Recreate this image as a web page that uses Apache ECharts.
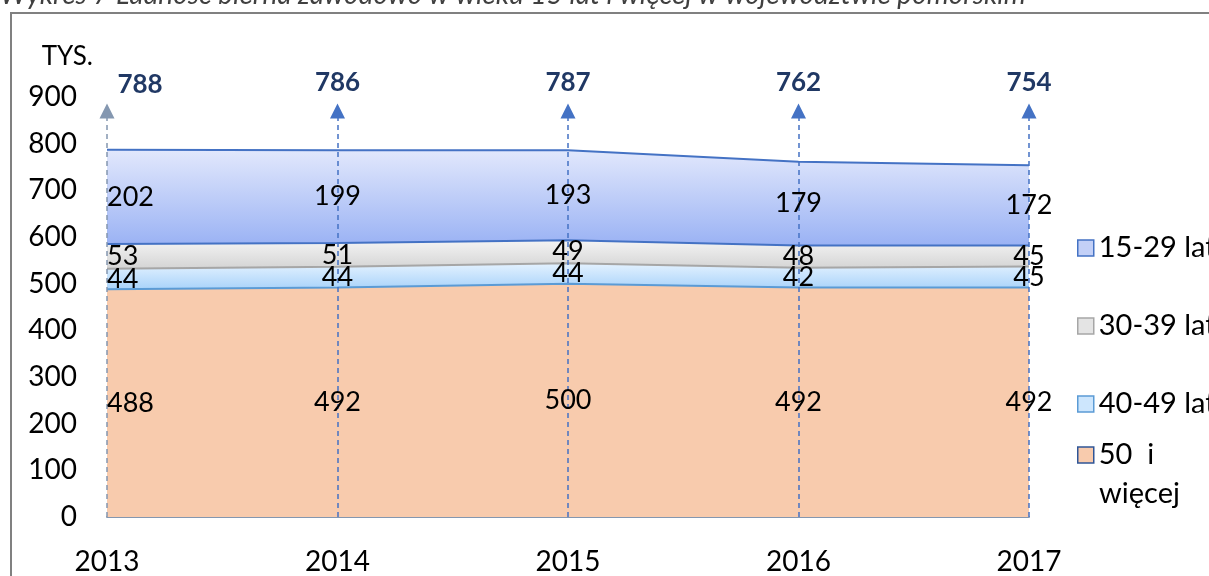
<!DOCTYPE html>
<html>
<head>
<meta charset="utf-8">
<script src="https://cdn.jsdelivr.net/npm/echarts@6/dist/echarts.min.js"></script>
<style>
html,body{margin:0;padding:0;background:#fff;}
#chart{width:1209px;height:576px;}
</style>
</head>
<body>
<div id="chart"></div>
<script>
// ---- data ----
const categories = ['2013', '2014', '2015', '2016', '2017'];
const seriesNames = ['15-29 lat', '30-39 lat', '40-49 lat', '50 i więcej'];
const age1529 = [202, 199, 193, 179, 172];
const age3039 = [53, 51, 49, 48, 45];
const age4049 = [44, 44, 44, 42, 45];
const age50plus = [488, 492, 500, 492, 492];
const totals = [788, 786, 787, 762, 754];
const yMin = 0, yMax = 900, yStep = 100;
const titleText = 'Wykres 7 Ludność bierna zawodowo w wieku 15 lat i więcej w województwie pomorskim';
const unitText = 'TYS.';

// ---- style ----
const FONT = 'Lato, "Open Sans", sans-serif';
const FS = 28;
const arrowTopValue = 870;

const chart = echarts.init(document.getElementById('chart'), null, {renderer: 'canvas'});

function grad(c0, c1) {
  return new echarts.graphic.LinearGradient(0, 0, 0, 1, [{offset: 0, color: c0}, {offset: 1, color: c1}]);
}

// bottom-to-top stacking order
const stackOrder = [
  {name: seriesNames[3], data: age50plus, fill: '#F8CBAD', line: '#5B9BD5'},
  {name: seriesNames[2], data: age4049, fill: grad('#E4F2FF', '#A9D3FA'), line: '#A6A6A6'},
  {name: seriesNames[1], data: age3039, fill: grad('#F4F4F4', '#D4D4D4'), line: '#4472C4'},
  {name: seriesNames[0], data: age1529, fill: grad('#E2E8FC', '#9AB2F4'), line: '#4472C4'}
];

const series = [];
stackOrder.forEach(s => {
  series.push({
    name: s.name, type: 'line', stack: 'total', data: s.data,
    symbol: 'none', silent: true,
    lineStyle: {color: s.line, width: 2},
    areaStyle: {color: s.fill, opacity: 1},
    itemStyle: {color: s.line},
    z: 2
  });
});

// value labels at band middles
const base = categories.map(() => 0);
stackOrder.forEach(s => {
  const pts = s.data.map((v, i) => {
    const mid = base[i] + v / 2;
    base[i] += v;
    const item = {value: [i, mid], raw: v};
    if (i === 0) item.label = {position: 'right', distance: 0};
    return item;
  });
  series.push({
    type: 'scatter', data: pts, symbolSize: 0, silent: true, z: 5,
    itemStyle: {color: '#000', opacity: 1},
    label: {
      show: true, position: 'inside', color: '#000', fontFamily: FONT, fontSize: FS - 1,
      textBorderWidth: 0, textBorderColor: 'transparent',
      formatter: p => String(p.data.raw)
    }
  });
});

// dashed arrows with totals
const mlData = categories.map((c, i) => [
  {
    coord: [i, 0],
    lineStyle: {color: i === 0 ? '#8497B0' : '#4472C4', type: [5, 4], width: 1.5},
    itemStyle: {color: i === 0 ? '#8497B0' : '#4472C4'},
    label: {
      show: true, position: 'end', formatter: String(totals[i]),
      color: '#203864', fontWeight: 'bold', fontFamily: FONT, fontSize: FS - 2,
      distance: 15, offset: i === 0 ? [33, 2] : [0, 0]
    }
  },
  {coord: [i, arrowTopValue], itemStyle: {color: i === 0 ? '#8497B0' : '#4472C4'}}
]);
series.push({
  type: 'line', data: [], silent: true, z: 10,
  markLine: {
    silent: true, animation: false,
    symbol: ['none', 'triangle'], symbolSize: 15,
    data: mlData
  }
});

const legendItem = (name, color, border) => ({name, icon: 'rect', itemStyle: {color, borderColor: border, borderWidth: 1.5}});
const LFS = 29;

const option = {
  animation: false,
  backgroundColor: '#fff',
  grid: {left: 107, right: 180, top: 97, bottom: 55},
  legend: [{
    orient: 'vertical', left: 1072, top: 227, itemGap: 46,
    itemWidth: 16, itemHeight: 16, selectedMode: false,
    textStyle: {fontFamily: FONT, fontSize: LFS, color: '#000', lineHeight: 32},
    data: [
      legendItem(seriesNames[0], '#C3D0F7', '#4472C4'),
      legendItem(seriesNames[1], '#E4E4E4', '#A6A6A6'),
      legendItem(seriesNames[2], '#CDE6FD', '#5B9BD5')
    ]
  }, {
    orient: 'vertical', left: 1072, top: 434, selectedMode: false,
    itemWidth: 16, itemHeight: 16,
    textStyle: {fontFamily: FONT, fontSize: LFS, color: '#000', lineHeight: 32},
    formatter: () => '50  i',
    data: [legendItem(seriesNames[3], '#F8CBAD', '#2F5597')]
  }],
  xAxis: {
    type: 'category', data: categories, boundaryGap: false,
    axisLine: {show: true, lineStyle: {color: '#8497B0', width: 2}},
    axisTick: {show: false},
    axisLabel: {color: '#000', fontFamily: FONT, fontSize: FS, margin: 31}
  },
  yAxis: {
    type: 'value', min: yMin, max: yMax, interval: yStep,
    name: unitText, nameLocation: 'end', nameGap: 40,
    nameTextStyle: {color: '#000', fontFamily: FONT, fontSize: FS - 2, align: 'right', verticalAlign: 'middle', padding: [0, 14, 0, 0]},
    splitLine: {show: false}, axisLine: {show: false}, axisTick: {show: false},
    axisLabel: {color: '#000', fontFamily: FONT, fontSize: FS, margin: 30}
  },
  graphic: [
    {type: 'rect', silent: true, z: 100, shape: {x: 11, y: 13, width: 1230, height: 600},
     style: {fill: 'none', stroke: '#808080', lineWidth: 2}},
    {type: 'text', silent: true, z: 100, x: 0, y: -5,
     style: {text: titleText, fontFamily: FONT, fontStyle: 'italic', fontSize: 28, fill: '#404040', verticalAlign: 'middle'}},
    {type: 'text', silent: true, z: 100, x: 1099, y: 494,
     style: {text: 'więcej', fontFamily: FONT, fontSize: LFS, fill: '#000', verticalAlign: 'middle'}}
  ],
  series: series
};
chart.setOption(option);
</script>
</body>
</html>
